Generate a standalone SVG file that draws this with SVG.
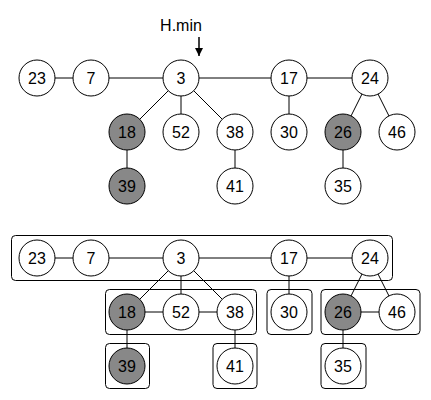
<svg xmlns="http://www.w3.org/2000/svg" width="431" height="400" viewBox="0 0 431 400">
<defs>
<style>
.n circle{fill:#fff;stroke:#000;stroke-width:1}
.n.g circle{fill:#888}
.n text{font-family:"Liberation Sans",Arial,sans-serif;font-size:16px;text-anchor:middle;dominant-baseline:central;fill:#000}
.e line{stroke:#000;stroke-width:1}
.box{fill:none;stroke:#000;stroke-width:1}
</style>
<marker id="ah" markerWidth="8" markerHeight="8" refX="8" refY="4" orient="auto" markerUnits="userSpaceOnUse">
<path d="M0,0 L8,4 L0,8 z" fill="#000"/>
</marker>
</defs>
<rect width="431" height="400" fill="#fff"/>
<text x="181" y="31" font-family="Liberation Sans,Arial,sans-serif" font-size="16" text-anchor="middle">H.min</text>
<line x1="199" y1="37" x2="199" y2="56" stroke="#000" stroke-width="1.5" marker-end="url(#ah)"/>
<g id="boxes">
<rect class="box" x="11.5" y="235.5" width="381" height="45" rx="4"/>
<rect class="box" x="105.5" y="289.5" width="151" height="45" rx="4"/>
<rect class="box" x="105.5" y="343.5" width="44" height="45" rx="4"/>
<rect class="box" x="213" y="343.5" width="44" height="45" rx="4"/>
<rect class="box" x="267" y="289.5" width="45" height="45" rx="4"/>
<rect class="box" x="321" y="289.5" width="99" height="45" rx="4"/>
<rect class="box" x="321" y="343.5" width="45" height="45" rx="4"/>
</g>
<g id="connectors" class="e">
<line x1="37" y1="78" x2="370" y2="78"/>
<line x1="181" y1="78" x2="127" y2="132"/>
<line x1="181" y1="78" x2="181" y2="132"/>
<line x1="181" y1="78" x2="235" y2="132"/>
<line x1="127" y1="132" x2="127" y2="186"/>
<line x1="235" y1="132" x2="235" y2="186"/>
<line x1="289" y1="78" x2="289" y2="132"/>
<line x1="370" y1="78" x2="343" y2="132"/>
<line x1="370" y1="78" x2="397" y2="132"/>
<line x1="343" y1="132" x2="343" y2="186"/>
<line x1="37" y1="258" x2="370" y2="258"/>
<line x1="181" y1="258" x2="127" y2="312"/>
<line x1="181" y1="258" x2="181" y2="312"/>
<line x1="181" y1="258" x2="235" y2="312"/>
<line x1="127" y1="312" x2="235" y2="312"/>
<line x1="127" y1="312" x2="127" y2="366"/>
<line x1="235" y1="312" x2="235" y2="366"/>
<line x1="289" y1="258" x2="289" y2="312"/>
<line x1="370" y1="258" x2="343" y2="312"/>
<line x1="370" y1="258" x2="397" y2="312"/>
<line x1="343" y1="312" x2="397" y2="312"/>
<line x1="343" y1="312" x2="343" y2="366"/>
</g>
<g id="t23" class="n"><circle cx="37" cy="78" r="18"/><text x="37" y="78">23</text></g>
<g id="t7" class="n"><circle cx="91" cy="78" r="18"/><text x="91" y="78">7</text></g>
<g id="t3" class="n"><circle cx="181" cy="78" r="18"/><text x="181" y="78">3</text></g>
<g id="t17" class="n"><circle cx="289" cy="78" r="18"/><text x="289" y="78">17</text></g>
<g id="t24" class="n"><circle cx="370" cy="78" r="18"/><text x="370" y="78">24</text></g>
<g id="t18" class="n g"><circle cx="127" cy="132" r="18"/><text x="127" y="132">18</text></g>
<g id="t52" class="n"><circle cx="181" cy="132" r="18"/><text x="181" y="132">52</text></g>
<g id="t38" class="n"><circle cx="235" cy="132" r="18"/><text x="235" y="132">38</text></g>
<g id="t30" class="n"><circle cx="289" cy="132" r="18"/><text x="289" y="132">30</text></g>
<g id="t26" class="n g"><circle cx="343" cy="132" r="18"/><text x="343" y="132">26</text></g>
<g id="t46" class="n"><circle cx="397" cy="132" r="18"/><text x="397" y="132">46</text></g>
<g id="t39" class="n g"><circle cx="127" cy="186" r="18"/><text x="127" y="186">39</text></g>
<g id="t41" class="n"><circle cx="235" cy="186" r="18"/><text x="235" y="186">41</text></g>
<g id="t35" class="n"><circle cx="343" cy="186" r="18"/><text x="343" y="186">35</text></g>
<g id="b23" class="n"><circle cx="37" cy="258" r="18"/><text x="37" y="258">23</text></g>
<g id="b7" class="n"><circle cx="91" cy="258" r="18"/><text x="91" y="258">7</text></g>
<g id="b3" class="n"><circle cx="181" cy="258" r="18"/><text x="181" y="258">3</text></g>
<g id="b17" class="n"><circle cx="289" cy="258" r="18"/><text x="289" y="258">17</text></g>
<g id="b24" class="n"><circle cx="370" cy="258" r="18"/><text x="370" y="258">24</text></g>
<g id="b18" class="n g"><circle cx="127" cy="312" r="18"/><text x="127" y="312">18</text></g>
<g id="b52" class="n"><circle cx="181" cy="312" r="18"/><text x="181" y="312">52</text></g>
<g id="b38" class="n"><circle cx="235" cy="312" r="18"/><text x="235" y="312">38</text></g>
<g id="b30" class="n"><circle cx="289" cy="312" r="18"/><text x="289" y="312">30</text></g>
<g id="b26" class="n g"><circle cx="343" cy="312" r="18"/><text x="343" y="312">26</text></g>
<g id="b46" class="n"><circle cx="397" cy="312" r="18"/><text x="397" y="312">46</text></g>
<g id="b39" class="n g"><circle cx="127" cy="366" r="18"/><text x="127" y="366">39</text></g>
<g id="b41" class="n"><circle cx="235" cy="366" r="18"/><text x="235" y="366">41</text></g>
<g id="b35" class="n"><circle cx="343" cy="366" r="18"/><text x="343" y="366">35</text></g>
</svg>
